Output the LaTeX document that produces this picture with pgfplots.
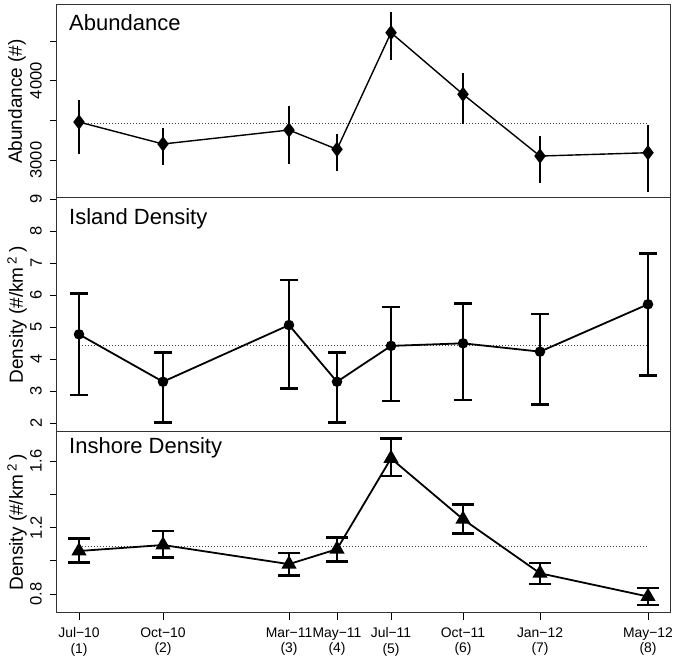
\documentclass[border=0pt]{standalone}
\usepackage{pgfplots}
\pgfplotsset{compat=1.18}
\usepackage{fontspec}
\setmainfont{Liberation Sans}
\begin{document}
\begin{tikzpicture}[x=1pt,y=1pt]
\useasboundingbox (0pt,0pt) rectangle (675pt,659pt);
\pgfplotsset{
  panel/.style={scale only axis, width=613pt, xmin=57, xmax=670, anchor=south west,
    axis line style={line width=1pt, black!80},
    ytick align=outside, xtick align=outside, major tick length=7pt,
    ytick pos=left, xtick pos=bottom,
    tick style={line width=0.9pt, black},
    yticklabel style={rotate=90, anchor=south, inner sep=0pt, font=\fontsize{16.5}{19}\selectfont},
    yticklabel shift=8pt,
    /pgf/number format/assume math mode=true,
    every axis y label/.style={at={(axis description cs:-0.0653,0.5)}, rotate=90, anchor=center, font=\fontsize{19}{22}\selectfont},
    clip=false,
    xtick=\empty,
  },
}
% ---------- Top: Abundance ----------
\begin{axis}[panel, at={(57pt,461pt)}, height=193pt,
  ymin=2521, ymax=4955, ytick={3000,3500,4000,4500}, yticklabels={3000,,4000,},
  ylabel={Abundance (\#)}]
\addplot[black!75, line width=0.9pt, dash pattern=on 1pt off 2pt] coordinates {(79,3466) (648,3466)};
\addplot[black, line width=1.4pt, mark=diamond*, mark size=6.5pt, mark options={solid},
  error bars/.cd, y dir=both, y explicit, error mark=none, error bar style={line width=2.6pt}]
coordinates {
(79,3479) += (0,282) -= (0,403)
(163,3202) += (0,201) -= (0,269)
(289,3378) += (0,298) -= (0,428)
(337,3135) += (0,193) -= (0,270)
(391,4606) += (0,259) -= (0,349)
(463,3829) += (0,264) -= (0,371)
(540,3050) += (0,252) -= (0,344)
(648,3092) += (0,345) -= (0,491)
};
\end{axis}
% ---------- Middle: Island density ----------
\begin{axis}[panel, at={(57pt,227pt)}, height=234pt,
  ymin=1.73, ymax=9.04, ytick={2,3,4,5,6,7,8,9},
  ylabel={Density (\#/km\,\textsuperscript{2}\,)}]
\addplot[black!75, line width=0.9pt, dash pattern=on 1pt off 2pt] coordinates {(79,4.43) (648,4.43)};
\addplot[black, line width=1.8pt, mark=*, mark size=4.3pt, mark options={solid},
  error bars/.cd, y dir=both, y explicit, error bar style={line width=2.6pt},
  error mark options={rotate=90, line width=2.6pt, mark size=9pt, black}]
coordinates {
(79,4.78) += (0,1.28) -= (0,1.89)
(163,3.30) += (0,0.91) -= (0,1.28)
(289,5.07) += (0,1.41) -= (0,1.99)
(337,3.30) += (0,0.91) -= (0,1.28)
(391,4.42) += (0,1.21) -= (0,1.72)
(463,4.50) += (0,1.24) -= (0,1.77)
(540,4.24) += (0,1.17) -= (0,1.66)
(648,5.72) += (0,1.58) -= (0,2.23)
};
\end{axis}
% ---------- Bottom: Inshore density ----------
\begin{axis}[panel, at={(57pt,46.5pt)}, height=180.5pt,
  ymin=0.689, ymax=1.775, ytick={0.8,1.0,1.2,1.4,1.6}, yticklabels={0.8,,1.2,,1.6},
  ylabel={Density (\#/km\,\textsuperscript{2}\,)},
  xtick={79,163,289,337,391,463,540,648},
  xticklabels={{Jul−10\\(1)},{Oct−10\\(2)},{Mar−11\\(3)},{May−11\\(4)},{Jul−11\\(5)},{Oct−11\\(6)},{Jan−12\\(7)},{May−12\\(8)}},
  xticklabel style={align=center, font=\fontsize{13.9}{15.5}\selectfont, inner sep=0pt},
  xticklabel shift=8pt]
\addplot[black!75, line width=0.9pt, dash pattern=on 1pt off 2pt] coordinates {(79,1.088) (648,1.088)};
\addplot[black, line width=1.8pt, mark=triangle*, mark size=7pt, mark options={solid},
  error bars/.cd, y dir=both, y explicit, error bar style={line width=2.6pt},
  error mark options={rotate=90, line width=2.6pt, mark size=11pt, black}]
coordinates {
(79,1.059) += (0,0.075) -= (0,0.070)
(163,1.095) += (0,0.085) -= (0,0.075)
(289,0.980) += (0,0.066) -= (0,0.067)
(337,1.070) += (0,0.070) -= (0,0.074)
(391,1.616) += (0,0.121) -= (0,0.106)
(463,1.250) += (0,0.090) -= (0,0.086)
(540,0.925) += (0,0.063) -= (0,0.065)
(648,0.785) += (0,0.051) -= (0,0.052)
};
\end{axis}
\node[anchor=base west, font=\fontsize{22}{26}\selectfont, inner sep=0pt] at (69pt,628pt) {Abundance};
\node[anchor=base west, font=\fontsize{22}{26}\selectfont, inner sep=0pt] at (69pt,434pt) {Island Density};
\node[anchor=base west, font=\fontsize{22}{26}\selectfont, inner sep=0pt] at (69pt,205pt) {Inshore Density};
\end{tikzpicture}
\end{document}
